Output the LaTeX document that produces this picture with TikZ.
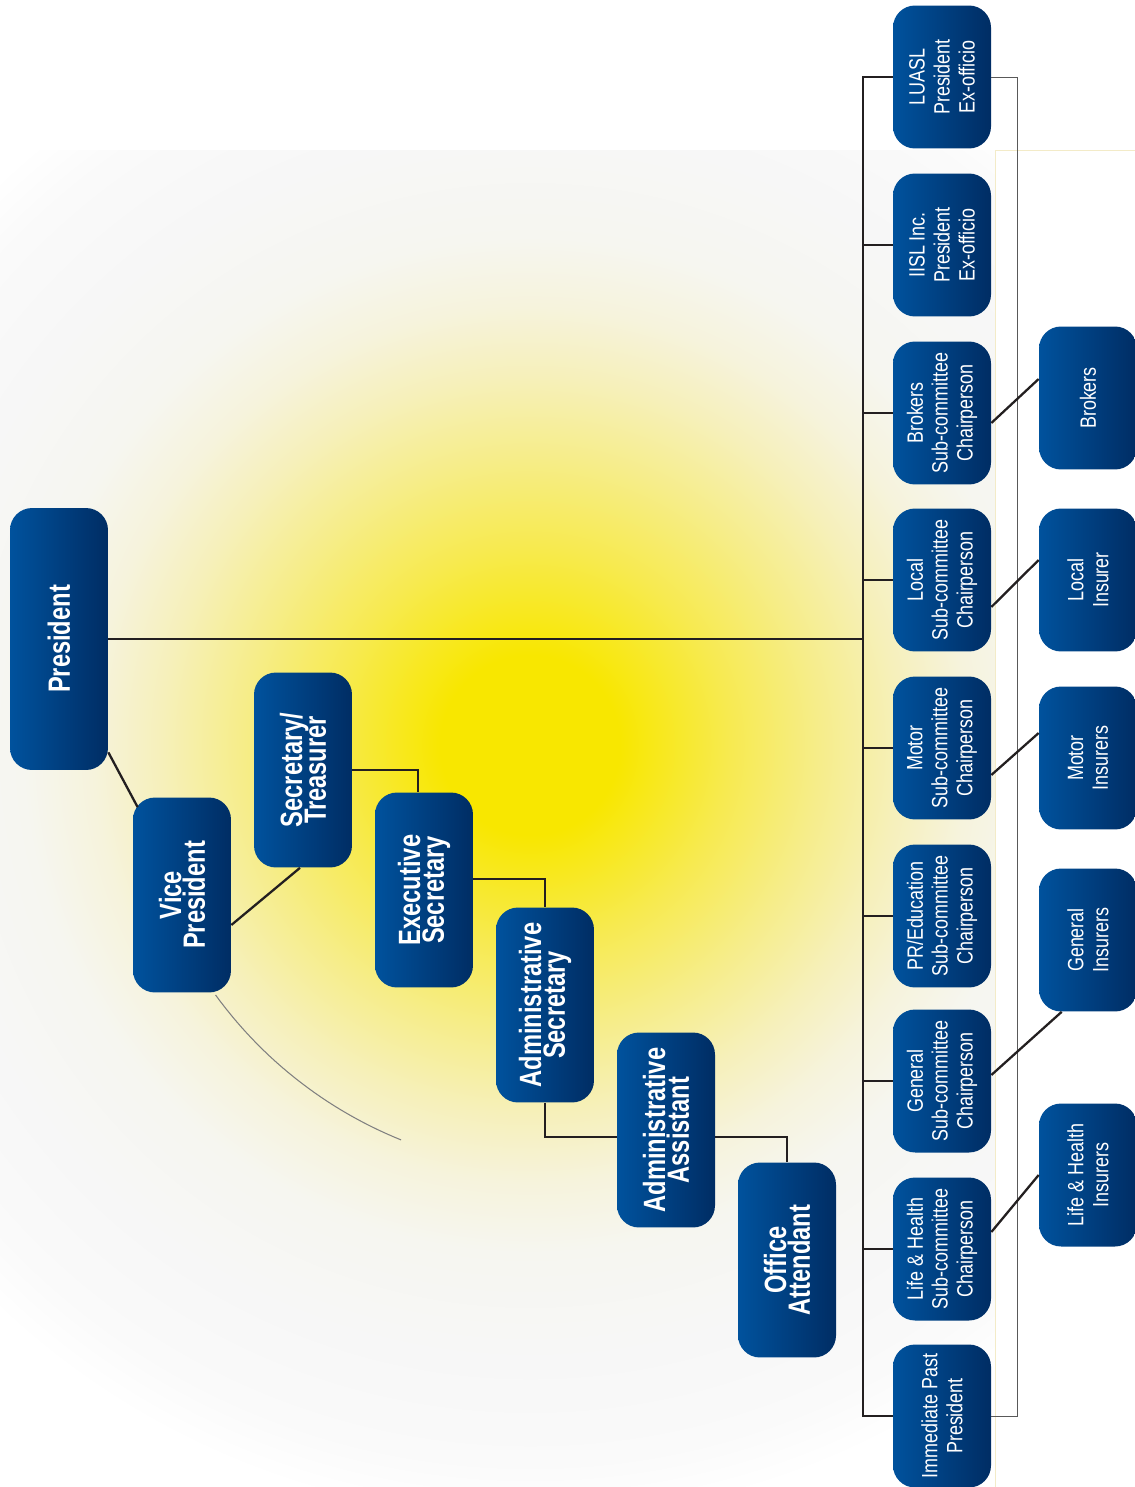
\documentclass[tikz,border=0pt]{standalone}
\usepackage{fontspec}
\newfontfamily\headfont{Liberation Sans}[FakeStretch=0.77]
\newfontfamily\subfont{Liberation Sans}[FakeStretch=0.81]
\newcommand{\tightlines}{\lineskiplimit=-20pt\relax}
\definecolor{boxlight}{HTML}{00529D}
\definecolor{boxdark}{HTML}{002D64}
\definecolor{linecol}{HTML}{231F20}
\definecolor{sun0}{HTML}{F8E700}
\definecolor{sun1}{HTML}{F7EA50}
\definecolor{sun2}{HTML}{F6ED8A}
\definecolor{sun3}{HTML}{F6F0BA}
\definecolor{sun4}{HTML}{F6F3DC}
\definecolor{sun5}{HTML}{F6F6F0}
\definecolor{sun6}{HTML}{F7F7F7}
\definecolor{sun7}{HTML}{FAFAFA}
\definecolor{cream}{HTML}{F3EBC8}
\pgfdeclareradialshading{glow}{\pgfpoint{0bp}{0bp}}{%
  color(0bp)=(sun0); color(51bp)=(sun0); color(113bp)=(sun1); color(164bp)=(sun2);
  color(209bp)=(sun3); color(248bp)=(sun4); color(288bp)=(sun5); color(350bp)=(sun6);
  color(407bp)=(sun7); color(441bp)=(white)}
\tikzset{
  chartbox/.style={rotate=90, rounded corners=0.44cm, left color=boxlight, right color=boxdark,
    text=white, align=center, inner sep=0pt, minimum height=1.96cm},
  headbox/.style={chartbox, minimum width=3.9cm,
    font=\headfont\bfseries\fontsize{17.5}{13.6}\selectfont\tightlines},
  subbox/.style={chartbox, minimum width=2.86cm,
    font=\subfont\fontsize{12.6}{14.2}\selectfont\tightlines},
  link/.style={draw=linecol, line width=1.3pt},
  thinrule/.style={draw=gray!70!black, line width=0.5pt}
}
\begin{document}
\begin{tikzpicture}[x=0.02cm, y=-0.02cm]
\useasboundingbox (0,0) rectangle (1135,1487);
\fill[white] (0,0) rectangle (1135,1487);
% glow behind the chart
\begin{scope}
\clip (0,150) rectangle (995,1487);
\node[inner sep=0pt] (glow) at (530,745) {\pgfuseshading{glow}};
\end{scope}
\draw[cream, line width=0.4pt] (1135,150) -| (995,1487);
\draw[gray, line width=0.6pt] plot[domain=112:144, samples=30] ({561+427*cos(\x)}, {744+427*sin(\x)});

% left chain
\node[headbox, minimum width=5.24cm] (pres) at (59,639) {President};
\node[headbox] (vp) at (182,895) {Vice\\President};
\node[headbox] (sec) at (303,770) {Secretary/\\Treasurer};
\node[headbox] (exec) at (424,890) {Executive\\Secretary};
\node[headbox] (adms) at (545,1005) {Administrative\\Secretary};
\node[headbox] (adma) at (666,1130) {Administrative\\Assistant};
\node[headbox] (office) at (787,1260) {Office\\Attendant};

% committee column
\node[subbox] (luasl) at (942,77) {LUASL\\President\\Ex-officio};
\node[subbox] (iisl) at (942,245) {IISL Inc.\\President\\Ex-officio};
\node[subbox] (brkc) at (942,413) {Brokers\\Sub-committee\\Chairperson};
\node[subbox] (locc) at (942,580) {Local\\Sub-committee\\Chairperson};
\node[subbox] (motc) at (942,748) {Motor\\Sub-committee\\Chairperson};
\node[subbox] (prc) at (942,916) {PR/Education\\Sub-committee\\Chairperson};
\node[subbox] (genc) at (942,1081) {General\\Sub-committee\\Chairperson};
\node[subbox] (lifc) at (942,1249) {Life \& Health\\Sub-committee\\Chairperson};
\node[subbox] (ipp) at (942,1416) {Immediate Past\\President};

% member column
\node[subbox] (brk) at (1088,398) {Brokers};
\node[subbox] (loci) at (1088,580) {Local\\Insurer};
\node[subbox] (moti) at (1088,758) {Motor\\Insurers};
\node[subbox] (geni) at (1088,940) {General\\Insurers};
\node[subbox] (lifi) at (1088,1175) {Life \& Health\\Insurers};

\coordinate (spine) at (863,0);
\coordinate (rail) at (1017,0);

\draw[link] ([yshift=0.36cm]pres.south west) -- ([xshift=0.1cm,yshift=-0.2cm]vp.north east);
\draw[link] ([yshift=-0.6cm]vp.south) -- ([xshift=-0.06cm]sec.west);
\draw[link] (sec.south) -| ([xshift=-0.12cm]exec.east);
\draw[link] ([yshift=0.22cm]exec.south) -| (adms.east);
\draw[link] (adms.west) |- ([yshift=-0.14cm]adma.north);
\draw[link] ([yshift=-0.14cm]adma.south) -| (office.east);

\draw[link] (pres.south) -- (pres.south -| spine);
\draw[link] (luasl.north) -| (spine |- ipp.north) -- (ipp.north);
\draw[link] (iisl.north) -- (iisl.north -| spine);
\draw[link] (brkc.north) -- (brkc.north -| spine);
\draw[link] (locc.north) -- (locc.north -| spine);
\draw[link] (motc.north) -- (motc.north -| spine);
\draw[link] (prc.north) -- (prc.north -| spine);
\draw[link] (genc.north) -- (genc.north -| spine);
\draw[link] (lifc.north) -- (lifc.north -| spine);
\draw[thinrule] (luasl.south) -| (rail |- ipp.south) -- (ipp.south);

\draw[link] ([yshift=-0.2cm]brkc.south) -- ([yshift=0.38cm]brk.north);
\draw[link] ([yshift=-0.54cm]locc.south) -- ([yshift=0.4cm]loci.north);
\draw[link] ([yshift=-0.54cm]motc.south) -- ([yshift=0.5cm]moti.north);
\draw[link] ([yshift=0.12cm]genc.south) -- ([xshift=0.46cm]geni.north west);
\draw[link] ([yshift=0.34cm]lifc.south) -- (lifi.north);
\end{tikzpicture}
\end{document}
